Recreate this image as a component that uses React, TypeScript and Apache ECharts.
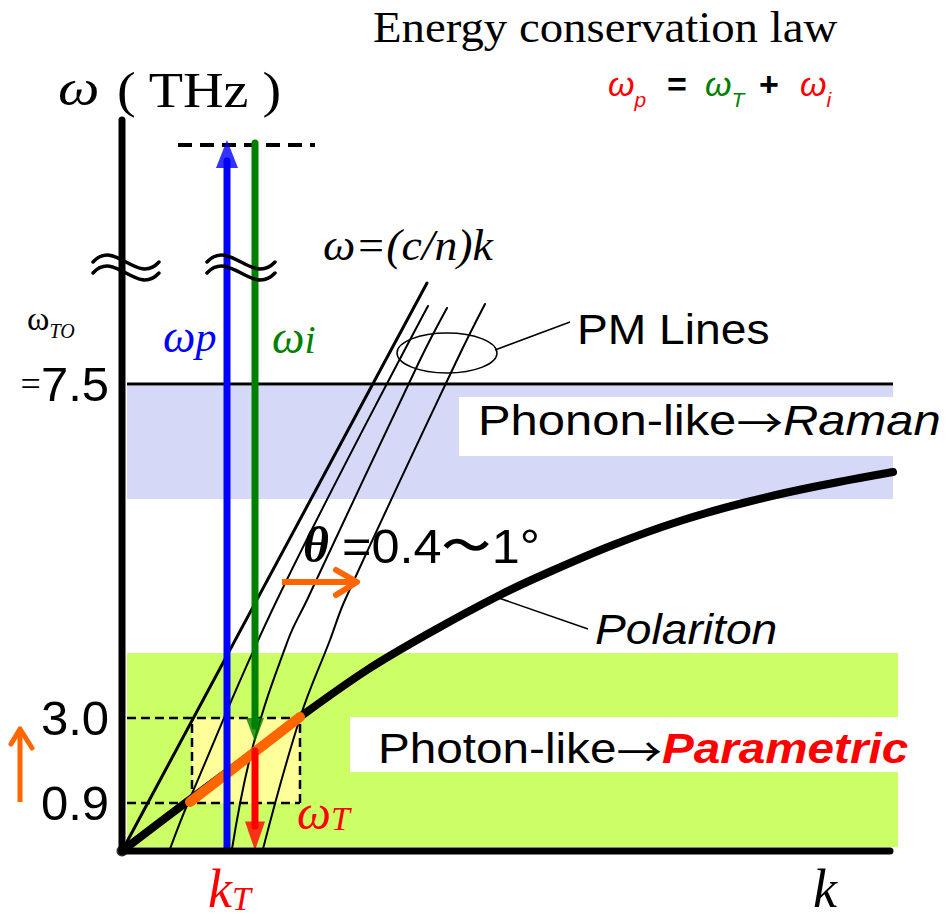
import React, { useEffect, useRef } from 'react';
import * as echarts from 'echarts';

// ---------- data (schematic diagram units: k horizontal, ω vertical) ----------
const kRange = [0, 776];
const wRange = [0, 731];

const yAxisLineK = [0, 0];
const yAxisLineW = [0, 731];
const xAxisLineK = [0, 768];
const xAxisLineW = [0, 0];

const polaritonK = [0, 66, 120, 178, 245, 311, 378, 425, 491, 558, 625, 691, 771];
const polaritonW = [0, 50, 90, 134, 181, 220, 256, 278, 306, 330, 349, 364, 379];

const pm1K = [0, 305];
const pm1W = [0, 568];
const pm2K = [48, 66, 155, 306];
const pm2W = [2, 48, 251, 545];
const pm3K = [110, 131, 166, 185, 298, 325];
const pm3W = [2, 105, 211, 251, 491, 543];
const pm4K = [141, 178, 208, 223, 335, 363];
const pm4W = [2, 133, 211, 251, 491, 547];

const toLineK = [5, 771];
const toLineW = [467, 467];

const greenBandK = [5, 776];
const greenBandW = [4, 198];
const blueBandK = [5, 771];
const blueBandW = [352, 465];
const yellowK = [70, 178];
const yellowW = [48, 133];

const dashTopK = [5, 178];
const dashTopW = [133, 133];
const dashBottomK = [5, 178];
const dashBottomW = [48, 48];
const dashLeftK = [70, 70];
const dashLeftW = [48, 133];
const dashRightK = [178, 178];
const dashRightW = [48, 133];

const orangeK = [68, 178];
const orangeW = [49, 134];

const pumpK = [105, 105];
const pumpW = [3, 690];
const idlerK = [133, 133];
const idlerW = [708, 125];
const thzK = [133, 133];
const thzW = [100, 25];
const headK = [105, 133, 133];
const headW = [697, 121, 15];

const pumpLevelK = [56, 193];
const pumpLevelW = [706, 706];

const yTickValues = [48, 133, 467];
const yTickLabels = ['0.9', '3.0', '7.5'];

// ---------- helpers ----------
const SERIF = '"Liberation Serif", "Times New Roman", serif';
const SANS = '"Liberation Sans", Arial, sans-serif';
const CJK = '"Noto Sans CJK JP", sans-serif';

const zip = (ks: number[], ws: number[]) => ks.map((k, i) => [k, ws[i]]);

function lineSeries(data: number[][], color: string, width: number, z: number, extra: any = {}) {
  return {
    type: 'line',
    data,
    symbol: 'none',
    silent: true,
    clip: false,
    z,
    smooth: extra.smooth ?? false,
    lineStyle: { color, width, cap: extra.cap ?? 'round', type: extra.type ?? 'solid' },
  };
}

function txt(x: number, y: number, text: string, font: string, fill = '#000', scaleX = 1, vAlign = 'middle', align = 'left') {
  return {
    type: 'text',
    x,
    y,
    scaleX,
    z: 20,
    silent: true,
    style: { text, font, fill, align, verticalAlign: vAlign },
  };
}

function richTxt(x: number, y: number, text: string, rich: any, scaleX = 1, vAlign = 'middle', align = 'left') {
  return {
    type: 'text',
    x,
    y,
    scaleX,
    z: 20,
    silent: true,
    style: { text, rich, align, verticalAlign: vAlign },
  };
}

// symbol + subscript as one rich text; shift = how far the subscript baseline sits below
function withSub(x: number, y: number, main: string, sub: string, family: string, mainSize: number, subSize: number,
  subItalic: boolean, fill: string, shift: number, vAlign = 'middle') {
  const d = 0.34 * (mainSize - subSize) + shift;
  return richTxt(x, y, `{m|${main}}{s|${sub}}`, {
    m: { fontFamily: family, fontSize: mainSize, fontStyle: 'italic', fill },
    s: { fontFamily: family, fontSize: subSize, fontStyle: subItalic ? 'italic' : 'normal', fill, padding: [Math.max(0, 2 * d), 0, 0, 0] },
  }, 1, vAlign);
}

function wave(x1: number, x2: number, y: number) {
  const w = x2 - x1;
  return {
    type: 'bezierCurve',
    z: 12,
    silent: true,
    shape: { x1, y1: y, x2, y2: y, cpx1: x1 + w / 3, cpy1: y - 24, cpx2: x1 + (2 * w) / 3, cpy2: y + 24 },
    style: { stroke: '#000', lineWidth: 3.5, fill: 'none', lineCap: 'round' },
  };
}

const ORANGE = '#ff6600';

function buildSeries() {
  const series: any[] = [];

  series.push({
    type: 'line',
    data: [[0, 0]],
    symbol: 'none',
    silent: true,
    z: 0,
    lineStyle: { opacity: 0 },
    markArea: {
      silent: true,
      data: [
        [
          { coord: [greenBandK[0], greenBandW[0]], itemStyle: { color: '#ccff66' } },
          { coord: [greenBandK[1], greenBandW[1]] },
        ],
        [
          { coord: [blueBandK[0], blueBandW[0]], itemStyle: { color: '#d6d8f7' } },
          { coord: [blueBandK[1], blueBandW[1]] },
        ],
        [
          { coord: [yellowK[0], yellowW[0]], itemStyle: { color: '#ffff99' } },
          { coord: [yellowK[1], yellowW[1]] },
        ],
      ],
    },
  });

  const dashStyle = { type: [9, 5] as any, cap: 'butt' };
  series.push(lineSeries(zip(dashTopK, dashTopW), '#000', 2.5, 2, dashStyle));
  series.push(lineSeries(zip(dashBottomK, dashBottomW), '#000', 2.5, 2, dashStyle));
  series.push(lineSeries(zip(dashLeftK, dashLeftW), '#000', 2.5, 2, dashStyle));
  series.push(lineSeries(zip(dashRightK, dashRightW), '#000', 2.5, 2, dashStyle));

  series.push(lineSeries(zip(toLineK, toLineW), '#000', 3, 3, { cap: 'butt' }));

  series.push(lineSeries(zip(pm1K, pm1W), '#000', 3, 3));
  series.push(lineSeries(zip(pm2K, pm2W), '#000', 2, 3, { smooth: 0.4 }));
  series.push(lineSeries(zip(pm3K, pm3W), '#000', 2, 3, { smooth: 0.4 }));
  series.push(lineSeries(zip(pm4K, pm4W), '#000', 2, 3, { smooth: 0.4 }));

  series.push(lineSeries(zip(polaritonK, polaritonW), '#000', 8, 3, { smooth: 0.35 }));

  series.push(lineSeries(zip(orangeK, orangeW), ORANGE, 10, 4));

  series.push(lineSeries(zip(pumpLevelK, pumpLevelW), '#000', 4, 4, { type: [14, 8], cap: 'butt' }));

  series.push(lineSeries(zip(pumpK, pumpW), '#0000ff', 7, 5));
  series.push(lineSeries(zip(idlerK, idlerW), '#008000', 7, 5));
  series.push(lineSeries(zip(thzK, thzW), '#ff0000', 7, 5));

  const headColors = ['#0000ff', '#008000', '#ff0000'];
  const headSizes = [[22, 28], [18, 24], [20, 29]];
  const headRot = [0, 180, 180];
  series.push({
    type: 'scatter',
    silent: true,
    z: 6,
    clip: false,
    symbol: 'triangle',
    data: headK.map((k, i) => ({
      value: [k, headW[i]],
      symbolSize: headSizes[i],
      symbolRotate: headRot[i],
      itemStyle: { color: headColors[i] },
    })),
  });

  series.push(lineSeries(zip(yAxisLineK, yAxisLineW), '#000', 7, 7));
  series.push(lineSeries(zip(xAxisLineK, xAxisLineW), '#000', 7, 7));
  series.push({
    type: 'scatter',
    silent: true,
    z: 8,
    clip: false,
    symbol: 'circle',
    symbolSize: 11,
    itemStyle: { color: '#000' },
    data: [[0, 0]],
  });

  return series;
}

function buildGraphic(toPx: (v: number[]) => number[]) {
  const arrowTok = { fontFamily: CJK, fontSize: 40, fill: '#000' };

  const tickTexts = yTickValues.map((w, i) => {
    const p = toPx([0, w]);
    const label = yTickLabels[i];
    const text = label === '7.5' ? '{eq|=}{n|7.5}' : `{n|${label}}`;
    return richTxt(p[0] - 13, p[1], text, {
      n: { fontFamily: SANS, fontSize: 49, fill: '#000' },
      eq: { fontFamily: SERIF, fontSize: 36, fill: '#000' },
    }, 1, 'middle', 'right');
  });

  return [
    { type: 'rect', z: 1.5, silent: true, shape: { x: 459, y: 397, width: 441, height: 59 }, style: { fill: '#fff' } },
    { type: 'rect', z: 1.5, silent: true, shape: { x: 350, y: 717, width: 550, height: 55 }, style: { fill: '#fff' } },

    wave(93, 159, 262),
    wave(93, 159, 273),
    wave(207, 275, 262),
    wave(207, 275, 273),

    { type: 'ellipse', z: 12, silent: true, shape: { cx: 447, cy: 353, rx: 50, ry: 20 }, style: { fill: 'none', stroke: '#000', lineWidth: 1.5 } },
    { type: 'line', z: 12, silent: true, shape: { x1: 495, y1: 350, x2: 570, y2: 322 }, style: { stroke: '#000', lineWidth: 1.5 } },
    { type: 'line', z: 12, silent: true, shape: { x1: 493, y1: 596, x2: 588, y2: 629 }, style: { stroke: '#000', lineWidth: 1.5 } },

    { type: 'line', z: 12, silent: true, shape: { x1: 20, y1: 802, x2: 20, y2: 731 }, style: { stroke: ORANGE, lineWidth: 5 } },
    { type: 'polyline', z: 12, silent: true, shape: { points: [[11, 744], [20, 729], [32, 748]] }, style: { stroke: ORANGE, lineWidth: 5, fill: 'none', lineCap: 'round', lineJoin: 'round' } },
    { type: 'line', z: 12, silent: true, shape: { x1: 282, y1: 582, x2: 355, y2: 582 }, style: { stroke: ORANGE, lineWidth: 6 } },
    { type: 'polyline', z: 12, silent: true, shape: { points: [[336, 570], [357, 582], [336, 595]] }, style: { stroke: ORANGE, lineWidth: 6, fill: 'none', lineCap: 'round', lineJoin: 'round' } },

    ...tickTexts,

    txt(373, 27, 'Energy conservation law', `45px ${SERIF}`, '#000', 1.04),

    withSub(608, 84, 'ω', 'p', SANS, 34, 21, true, '#ff0000', 11),
    txt(667, 84, '=', `bold 34px ${SANS}`, '#000'),
    withSub(705, 84, 'ω', 'T', SANS, 34, 21, true, '#008000', 11),
    txt(759, 84, '+', `bold 34px ${SANS}`, '#000'),
    withSub(800, 84, 'ω', 'i', SANS, 34, 21, true, '#ff0000', 11),

    txt(58, 88, 'ω', `italic 51px ${SERIF}`, '#000', 1.15),
    txt(117, 90, '( THz )', `51px ${SERIF}`, '#000', 1.1),

    richTxt(27, 318, '{m|ω}{s|TO}', {
      m: { fontFamily: SERIF, fontSize: 34, fill: '#000' },
      s: { fontFamily: SERIF, fontSize: 20, fontStyle: 'italic', fill: '#000', padding: [26, 0, 0, 0] },
    }),

    withSub(163, 336, 'ω', 'p', SERIF, 46, 42, true, '#0000ff', 0),
    withSub(272, 337, 'ω', 'i', SERIF, 46, 40, true, '#008000', 0),

    txt(323, 245, 'ω=(c/n)k', `italic 44px ${SERIF}`, '#000', 1.04),

    txt(577, 329, 'PM Lines', `42px ${SANS}`, '#000', 1.1),

    richTxt(478, 421, '{a|Phonon-like}{r|→}{b|Raman}', {
      a: { fontFamily: SANS, fontSize: 42, fill: '#000' },
      r: arrowTok,
      b: { fontFamily: SANS, fontSize: 42, fontStyle: 'italic', fill: '#000' },
    }, 1.165),

    richTxt(378, 749, '{a|Photon-like}{r|→}{b|Parametric}', {
      a: { fontFamily: SANS, fontSize: 42, fill: '#000' },
      r: arrowTok,
      b: { fontFamily: SANS, fontSize: 42, fontStyle: 'italic', fontWeight: 'bold', fill: '#ff0000' },
    }, 1.135),

    txt(595, 629, 'Polariton', `italic 42px ${SANS}`, '#000', 1.1),

    txt(303, 545, 'θ', `italic bold 50px ${SERIF}`, '#000'),
    txt(342, 546, '=0.4〜1°', `48px ${SANS}`, '#000', 1.05),

    withSub(297, 812, 'ω', 'T', SERIF, 48, 34, true, '#ff0000', 2),

    withSub(208, 916, 'k', 'T', SERIF, 54, 34, true, '#ff0000', 3, 'bottom'),
    txt(813, 916, 'k', `italic 54px ${SERIF}`, '#000', 1, 'bottom'),
  ];
}

export default function App() {
  const ref = useRef<HTMLDivElement>(null);
  useEffect(() => {
    document.body.style.margin = '0';
    const chart = echarts.init(ref.current as HTMLDivElement, null, { renderer: 'svg' });
    chart.setOption({
      animation: false,
      backgroundColor: '#fff',
      grid: { left: 122, right: 48, top: 120, bottom: 70, containLabel: false },
      xAxis: { type: 'value', min: kRange[0], max: kRange[1], show: false },
      yAxis: { type: 'value', min: wRange[0], max: wRange[1], show: false },
      series: buildSeries(),
    } as any);
    const toPx = (v: number[]) => chart.convertToPixel({ gridIndex: 0 }, v) as number[];
    chart.setOption({ graphic: buildGraphic(toPx) } as any);
    return () => chart.dispose();
  }, []);
  return <div ref={ref} style={{ width: 946, height: 921, background: '#fff' }} />;
}
